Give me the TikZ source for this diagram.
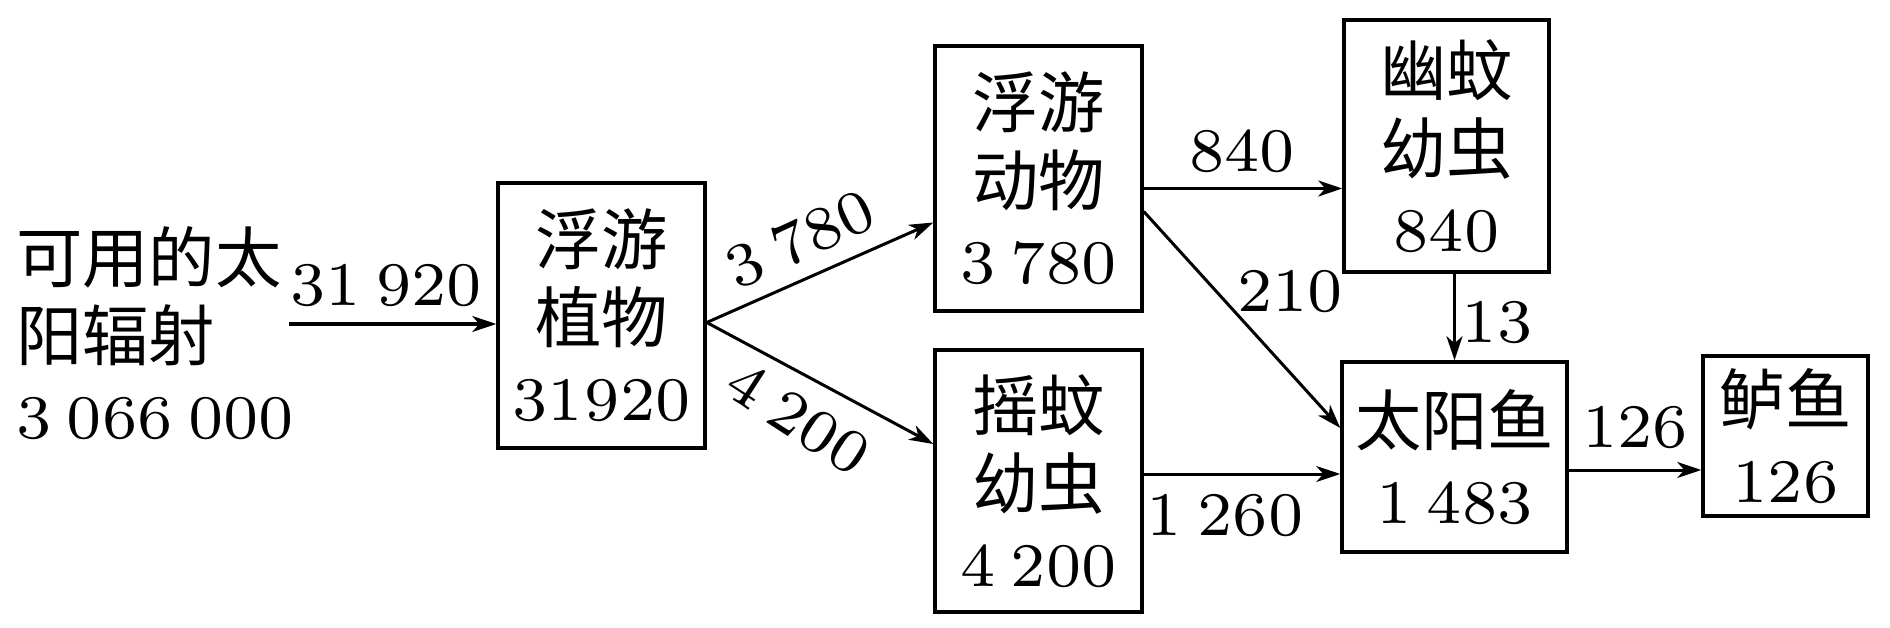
\documentclass[tikz,border=0pt]{standalone}
\usepackage{fontspec}
\setmainfont{lmroman7-regular.otf}
\newfontfamily\cjk{Noto Sans CJK SC}[Scale=1.07]
\usetikzlibrary{arrows.meta,calc}
\newcommand\bigfont{\fontsize{62}{78}\selectfont}
\newcommand\nsp{\hspace{0.25em}}
\begin{document}
\begin{tikzpicture}[x=1pt,y=-1pt,
  box/.style={draw,line width=3.5pt,align=center,inner sep=0pt,font=\bigfont},
  flow/.style={-{Stealth[length=24pt,width=16pt,inset=7pt]},line width=3pt},
  lab/.style={font=\bigfont,inner sep=0pt}]
\useasboundingbox (0,0) rectangle (1890,628);
% boxes
\node[box,minimum width=207pt,minimum height=265pt] (zp) at (601.5,315.5) {{\cjk 浮游}\\{\cjk 植物}\\31\kern0.03em920};
\node[box,minimum width=207pt,minimum height=265pt] (zd) at (1038.5,178.5) {{\cjk 浮游}\\{\cjk 动物}\\3\nsp780};
\node[box,minimum width=207pt,minimum height=262pt] (yw) at (1038.5,481) {{\cjk 摇蚊}\\{\cjk 幼虫}\\4\nsp200};
\node[box,minimum width=205pt,minimum height=252pt] (ywc) at (1446.5,146) {{\cjk 幽蚊}\\{\cjk 幼虫}\\840};
\node[box,minimum width=225pt,minimum height=190pt] (tyy) at (1454.5,457) {{\cjk 太阳鱼}\\1\nsp483};
\node[box,minimum width=165pt,minimum height=160pt] (ly) at (1785.5,436) {{\cjk 鲈鱼}\\126};
% source text
\node[lab,align=left,anchor=west] (src) at (16,333) {{\cjk 可用的太}\\{\cjk 阳辐射}\\3\nsp066\nsp000};
% arrows
\coordinate (in) at (289,324);
\draw[flow] (in) -- (in -| zp.west);
\coordinate (p0) at ($(zp.east)+(0,7)$);
\draw[flow] (p0) -- ($(zd.west)+(0,44)$);
\draw[flow] (p0) -- ($(yw.west)+(0,-37)$);
\coordinate (a) at ($(zd.east)+(0,10)$);
\draw[flow] (a) -- (a -| ywc.west);
\draw[flow] ($(zd.east)+(0,33)$) -- ($(tyy.west)+(0,-29)$);
\draw[flow] (tyy.north |- ywc.south) -- (tyy.north);
\coordinate (b) at ($(yw.east)+(0,-7)$);
\draw[flow] (b) -- (b -| tyy.west);
\coordinate (c) at ($(tyy.east)+(0,13)$);
\draw[flow] (c) -- (c -| ly.west);
% labels
\node[lab] (l1) at (386,286) {31\nsp920};
\node[lab,rotate=25] (l2) at (800,239) {3\nsp780};
\node[lab,rotate=-33] (l3) at (798,418) {4\nsp200};
\node[lab] (l4) at (1242,151) {840};
\node[lab] (l5) at (1290,292) {210};
\node[lab] (l6) at (1497,323) {13};
\node[lab] (l7) at (1225,516) {1\nsp260};
\node[lab] (l8) at (1635,428) {126};
\end{tikzpicture}
\end{document}
